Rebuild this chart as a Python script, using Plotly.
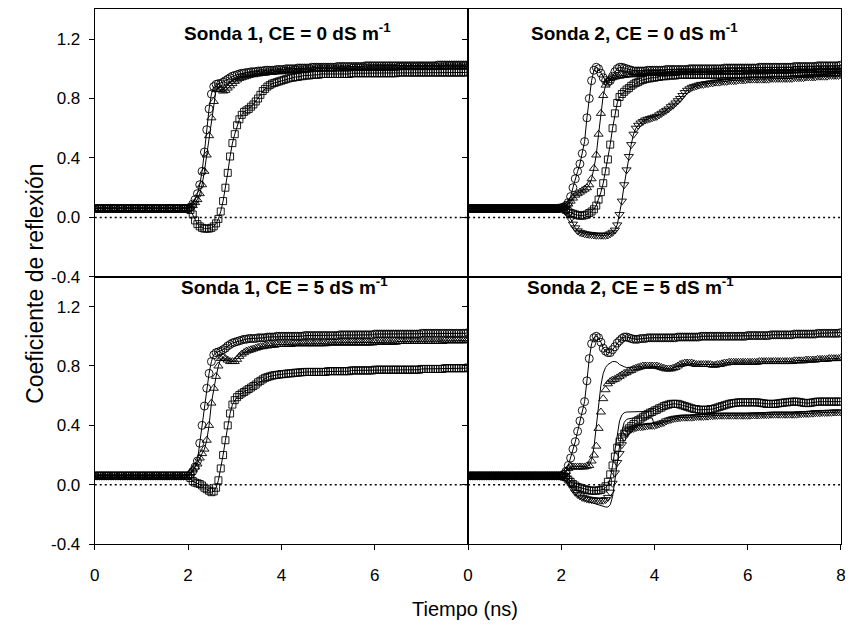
import plotly.graph_objects as go

# ---------------- data ----------------
T = [0.00, 0.05, 0.10, 0.15, 0.20, 0.25, 0.30, 0.35, 0.40, 0.45,
     0.50, 0.55, 0.60, 0.65, 0.70, 0.75, 0.80, 0.85, 0.90, 0.95,
     1.00, 1.05, 1.10, 1.15, 1.20, 1.25, 1.30, 1.35, 1.40, 1.45,
     1.50, 1.55, 1.60, 1.65, 1.70, 1.75, 1.80, 1.85, 1.90, 1.95,
     2.00, 2.05, 2.10, 2.15, 2.20, 2.25, 2.30, 2.35, 2.40, 2.45,
     2.50, 2.55, 2.60, 2.65, 2.70, 2.75, 2.80, 2.85, 2.90, 2.95,
     3.00, 3.05, 3.10, 3.15, 3.20, 3.25, 3.30, 3.35, 3.40, 3.45,
     3.50, 3.55, 3.60, 3.65, 3.70, 3.75, 3.80, 3.85, 3.90, 3.95,
     4.00, 4.05, 4.10, 4.15, 4.20, 4.25, 4.30, 4.35, 4.40, 4.45,
     4.50, 4.55, 4.60, 4.65, 4.70, 4.75, 4.80, 4.85, 4.90, 4.95,
     5.00, 5.05, 5.10, 5.15, 5.20, 5.25, 5.30, 5.35, 5.40, 5.45,
     5.50, 5.55, 5.60, 5.65, 5.70, 5.75, 5.80, 5.85, 5.90, 5.95,
     6.00, 6.05, 6.10, 6.15, 6.20, 6.25, 6.30, 6.35, 6.40, 6.45,
     6.50, 6.55, 6.60, 6.65, 6.70, 6.75, 6.80, 6.85, 6.90, 6.95,
     7.00, 7.05, 7.10, 7.15, 7.20, 7.25, 7.30, 7.35, 7.40, 7.45,
     7.50, 7.55, 7.60, 7.65, 7.70, 7.75, 7.80, 7.85, 7.90, 7.95,
     8.00]

# baseline before the reflection (t = 0.00 ... 1.95), read ~0.06
BASE = [0.06, 0.06, 0.06, 0.06, 0.06, 0.06, 0.06, 0.06, 0.06, 0.06,
        0.06, 0.06, 0.06, 0.06, 0.06, 0.06, 0.06, 0.06, 0.06, 0.06,
        0.06, 0.06, 0.06, 0.06, 0.06, 0.06, 0.06, 0.06, 0.06, 0.06,
        0.06, 0.06, 0.06, 0.06, 0.06, 0.06, 0.06, 0.06, 0.06, 0.06]

# ---- Sonda 1, CE = 0 (t = 2.00 ... 3.95 and 4.00 ... 8.00)
s1c0_circ_mid = [0.06, 0.07, 0.09, 0.12, 0.16, 0.22, 0.31, 0.44, 0.59, 0.73,
                 0.83, 0.88, 0.895, 0.90, 0.90, 0.91, 0.92, 0.93, 0.94, 0.95,
                 0.955, 0.96, 0.965, 0.97, 0.97, 0.975, 0.975, 0.98, 0.98, 0.98,
                 0.985, 0.985, 0.985, 0.99, 0.99, 0.99, 0.99, 0.99, 0.995, 0.995]
s1c0_circ_end = [0.995, 0.995, 1.0, 1.0, 1.0, 1.0, 1.0, 1.005, 1.005, 1.005,
                 1.005, 1.005, 1.005, 1.01, 1.01, 1.01, 1.01, 1.01, 1.01, 1.01,
                 1.01, 1.01, 1.01, 1.01, 1.015, 1.015, 1.015, 1.015, 1.015, 1.015,
                 1.015, 1.015, 1.015, 1.015, 1.015, 1.015, 1.02, 1.02, 1.02, 1.02,
                 1.02, 1.02, 1.02, 1.02, 1.02, 1.02, 1.02, 1.02, 1.02, 1.02,
                 1.02, 1.02, 1.02, 1.02, 1.02, 1.02, 1.02, 1.02, 1.02, 1.02,
                 1.02, 1.02, 1.02, 1.02, 1.02, 1.02, 1.02, 1.025, 1.025, 1.025,
                 1.025, 1.025, 1.025, 1.025, 1.025, 1.025, 1.025, 1.025, 1.025, 1.025,
                 1.025]
s1c0_tri_mid = [0.06, 0.07, 0.08, 0.10, 0.12, 0.16, 0.22, 0.31, 0.42, 0.55,
                0.67, 0.78, 0.86, 0.87, 0.86, 0.85, 0.855, 0.87, 0.885, 0.90,
                0.915, 0.925, 0.935, 0.94, 0.945, 0.95, 0.955, 0.96, 0.96, 0.965,
                0.965, 0.97, 0.97, 0.97, 0.975, 0.975, 0.975, 0.98, 0.98, 0.98]
s1c0_tri_end = [0.98, 0.985, 0.985, 0.985, 0.985, 0.99, 0.99, 0.99, 0.99, 0.99,
                0.995, 0.995, 0.995, 0.995, 0.995, 1.0, 1.0, 1.0, 1.0, 1.0,
                1.0, 1.0, 1.0, 1.0, 1.0, 1.0, 1.0, 1.0, 1.0, 1.0,
                1.005, 1.005, 1.005, 1.005, 1.005, 1.005, 1.005, 1.005, 1.005, 1.005,
                1.005, 1.005, 1.005, 1.005, 1.005, 1.005, 1.005, 1.005, 1.005, 1.005,
                1.01, 1.01, 1.01, 1.01, 1.01, 1.01, 1.01, 1.01, 1.01, 1.01,
                1.01, 1.01, 1.01, 1.01, 1.01, 1.01, 1.01, 1.01, 1.01, 1.01,
                1.015, 1.015, 1.015, 1.015, 1.015, 1.015, 1.015, 1.015, 1.015, 1.015,
                1.015]
s1c0_sq_mid = [0.06, 0.05, 0.02, -0.02, -0.045, -0.06, -0.07, -0.075, -0.075, -0.075,
               -0.07, -0.06, -0.04, -0.01, 0.04, 0.11, 0.20, 0.30, 0.41, 0.50,
               0.56, 0.62, 0.66, 0.69, 0.71, 0.72, 0.73, 0.745, 0.76, 0.78,
               0.80, 0.825, 0.85, 0.865, 0.88, 0.89, 0.90, 0.905, 0.91, 0.915]
s1c0_sq_end = [0.92, 0.925, 0.93, 0.935, 0.94, 0.94, 0.945, 0.945, 0.95, 0.95,
               0.955, 0.955, 0.955, 0.96, 0.96, 0.96, 0.96, 0.965, 0.965, 0.965,
               0.965, 0.965, 0.965, 0.965, 0.965, 0.965, 0.965, 0.965, 0.965, 0.965,
               0.97, 0.97, 0.97, 0.97, 0.97, 0.97, 0.97, 0.97, 0.97, 0.97,
               0.97, 0.97, 0.97, 0.97, 0.97, 0.97, 0.97, 0.97, 0.97, 0.97,
               0.975, 0.975, 0.975, 0.975, 0.975, 0.975, 0.975, 0.975, 0.975, 0.975,
               0.975, 0.975, 0.975, 0.975, 0.975, 0.975, 0.975, 0.975, 0.975, 0.975,
               0.975, 0.975, 0.975, 0.975, 0.975, 0.975, 0.975, 0.975, 0.975, 0.975,
               0.98]

# ---- Sonda 2, CE = 0
s2c0_circ_mid = [0.065, 0.07, 0.08, 0.10, 0.14, 0.20, 0.26, 0.31, 0.36, 0.43,
                 0.51, 0.67, 0.80, 0.92, 0.99, 1.01, 1.0, 0.97, 0.94, 0.92,
                 0.91, 0.92, 0.95, 0.98, 1.0, 1.01, 1.01, 1.005, 1.0, 0.995,
                 0.99, 0.985, 0.985, 0.985, 0.985, 0.985, 0.985, 0.99, 0.99, 0.99]
s2c0_circ_end = [0.99, 0.99, 0.99, 0.99, 0.99, 0.995, 0.995, 0.995, 0.995, 0.995,
                 0.995, 0.995, 0.995, 0.995, 0.995, 1.0, 1.0, 1.0, 1.0, 1.0,
                 1.0, 1.0, 1.0, 1.0, 1.0, 1.0, 1.0, 1.0, 1.0, 1.0,
                 1.005, 1.005, 1.005, 1.005, 1.005, 1.005, 1.005, 1.005, 1.005, 1.005,
                 1.005, 1.005, 1.005, 1.005, 1.005, 1.01, 1.01, 1.01, 1.01, 1.01,
                 1.01, 1.01, 1.01, 1.01, 1.01, 1.01, 1.01, 1.01, 1.01, 1.01,
                 1.015, 1.015, 1.015, 1.015, 1.015, 1.015, 1.015, 1.015, 1.015, 1.015,
                 1.02, 1.02, 1.02, 1.02, 1.02, 1.02, 1.02, 1.02, 1.02, 1.02,
                 1.025]
s2c0_tri_mid = [0.065, 0.07, 0.08, 0.09, 0.11, 0.13, 0.15, 0.16, 0.17, 0.18,
                0.19, 0.20, 0.22, 0.26, 0.33, 0.42, 0.56, 0.70, 0.82, 0.89,
                0.92, 0.935, 0.94, 0.945, 0.95, 0.95, 0.955, 0.955, 0.96, 0.96,
                0.96, 0.96, 0.965, 0.965, 0.965, 0.965, 0.97, 0.97, 0.97, 0.97]
s2c0_tri_end = [0.97, 0.97, 0.97, 0.97, 0.97, 0.97, 0.97, 0.97, 0.97, 0.97,
                0.975, 0.975, 0.975, 0.975, 0.975, 0.975, 0.975, 0.975, 0.975, 0.975,
                0.975, 0.975, 0.975, 0.975, 0.975, 0.98, 0.98, 0.98, 0.98, 0.98,
                0.98, 0.98, 0.98, 0.98, 0.98, 0.98, 0.98, 0.98, 0.98, 0.98,
                0.985, 0.985, 0.985, 0.985, 0.985, 0.985, 0.985, 0.985, 0.985, 0.985,
                0.985, 0.985, 0.985, 0.985, 0.985, 0.985, 0.985, 0.985, 0.985, 0.985,
                0.99, 0.99, 0.99, 0.99, 0.99, 0.99, 0.99, 0.99, 0.99, 0.99,
                0.995, 0.995, 0.995, 0.995, 0.995, 0.995, 0.995, 0.995, 0.995, 0.995,
                1.0]
s2c0_sq_mid = [0.065, 0.06, 0.05, 0.04, 0.03, 0.025, 0.02, 0.015, 0.012, 0.012,
               0.015, 0.02, 0.03, 0.04, 0.055, 0.08, 0.12, 0.17, 0.23, 0.31,
               0.39, 0.49, 0.60, 0.70, 0.77, 0.81, 0.83, 0.845, 0.86, 0.87,
               0.885, 0.895, 0.905, 0.91, 0.92, 0.925, 0.93, 0.935, 0.935, 0.94]
s2c0_sq_end = [0.94, 0.945, 0.945, 0.95, 0.95, 0.95, 0.955, 0.955, 0.955, 0.955,
               0.96, 0.96, 0.96, 0.96, 0.96, 0.96, 0.96, 0.96, 0.96, 0.96,
               0.96, 0.96, 0.96, 0.96, 0.96, 0.96, 0.96, 0.96, 0.96, 0.96,
               0.965, 0.965, 0.965, 0.965, 0.965, 0.965, 0.965, 0.965, 0.965, 0.965,
               0.965, 0.965, 0.965, 0.965, 0.965, 0.965, 0.965, 0.965, 0.965, 0.965,
               0.97, 0.97, 0.97, 0.97, 0.97, 0.97, 0.97, 0.97, 0.97, 0.97,
               0.97, 0.97, 0.97, 0.97, 0.97, 0.97, 0.97, 0.97, 0.97, 0.97,
               0.975, 0.975, 0.975, 0.975, 0.975, 0.975, 0.975, 0.975, 0.975, 0.975,
               0.98]
s2c0_dtri_mid = [0.065, 0.06, 0.04, 0.02, -0.01, -0.045, -0.07, -0.09, -0.10, -0.105,
                 -0.11, -0.112, -0.114, -0.116, -0.118, -0.12, -0.12, -0.12, -0.12, -0.12,
                 -0.118, -0.11, -0.10, -0.085, -0.05, 0.02, 0.11, 0.22, 0.32, 0.41,
                 0.49, 0.56, 0.60, 0.62, 0.635, 0.645, 0.655, 0.66, 0.665, 0.67]
s2c0_dtri_end = [0.675, 0.68, 0.69, 0.70, 0.71, 0.72, 0.73, 0.745, 0.755, 0.77,
                 0.785, 0.80, 0.82, 0.84, 0.855, 0.865, 0.875, 0.88, 0.885, 0.89,
                 0.895, 0.895, 0.90, 0.90, 0.905, 0.905, 0.91, 0.91, 0.91, 0.915,
                 0.915, 0.915, 0.92, 0.92, 0.92, 0.92, 0.925, 0.925, 0.925, 0.925,
                 0.93, 0.93, 0.93, 0.93, 0.93, 0.93, 0.93, 0.93, 0.93, 0.93,
                 0.935, 0.935, 0.935, 0.935, 0.935, 0.935, 0.935, 0.935, 0.935, 0.935,
                 0.94, 0.94, 0.94, 0.94, 0.94, 0.945, 0.945, 0.945, 0.945, 0.945,
                 0.95, 0.95, 0.95, 0.95, 0.95, 0.955, 0.955, 0.955, 0.955, 0.955,
                 0.96]

# ---- Sonda 1, CE = 5
s1c5_circ_mid = [0.06, 0.07, 0.09, 0.12, 0.16, 0.28, 0.40, 0.53, 0.65, 0.75,
                 0.83, 0.875, 0.89, 0.895, 0.90, 0.91, 0.92, 0.935, 0.945, 0.955,
                 0.96, 0.965, 0.97, 0.975, 0.98, 0.98, 0.985, 0.985, 0.985, 0.985,
                 0.99, 0.99, 0.99, 0.99, 0.995, 0.995, 0.995, 0.995, 1.0, 1.0]
s1c5_circ_end = [1.0, 1.0, 1.0, 1.0, 1.0, 1.0, 1.0, 1.0, 1.0, 1.0,
                 1.005, 1.005, 1.005, 1.005, 1.005, 1.005, 1.005, 1.005, 1.005, 1.005,
                 1.005, 1.005, 1.005, 1.005, 1.005, 1.01, 1.01, 1.01, 1.01, 1.01,
                 1.01, 1.01, 1.01, 1.01, 1.01, 1.01, 1.01, 1.01, 1.01, 1.01,
                 1.015, 1.015, 1.015, 1.015, 1.015, 1.015, 1.015, 1.015, 1.015, 1.015,
                 1.015, 1.015, 1.015, 1.015, 1.015, 1.015, 1.015, 1.015, 1.015, 1.015,
                 1.02, 1.02, 1.02, 1.02, 1.02, 1.02, 1.02, 1.02, 1.02, 1.02,
                 1.02, 1.02, 1.02, 1.02, 1.02, 1.02, 1.02, 1.02, 1.02, 1.02,
                 1.025]
s1c5_tri_mid = [0.06, 0.08, 0.10, 0.12, 0.14, 0.18, 0.21, 0.24, 0.30, 0.40,
                0.55, 0.65, 0.73, 0.80, 0.85, 0.86, 0.85, 0.84, 0.83, 0.83,
                0.83, 0.845, 0.865, 0.88, 0.89, 0.90, 0.905, 0.91, 0.915, 0.92,
                0.925, 0.93, 0.93, 0.935, 0.935, 0.94, 0.94, 0.94, 0.945, 0.945]
s1c5_tri_end = [0.945, 0.945, 0.945, 0.945, 0.945, 0.95, 0.95, 0.95, 0.95, 0.95,
                0.95, 0.95, 0.95, 0.95, 0.95, 0.95, 0.95, 0.95, 0.95, 0.95,
                0.955, 0.955, 0.955, 0.955, 0.955, 0.955, 0.955, 0.955, 0.955, 0.955,
                0.955, 0.955, 0.955, 0.955, 0.955, 0.955, 0.955, 0.955, 0.955, 0.955,
                0.96, 0.96, 0.96, 0.96, 0.96, 0.96, 0.96, 0.96, 0.96, 0.96,
                0.965, 0.965, 0.965, 0.965, 0.965, 0.965, 0.965, 0.965, 0.965, 0.965,
                0.965, 0.965, 0.965, 0.965, 0.965, 0.965, 0.965, 0.965, 0.965, 0.965,
                0.97, 0.97, 0.97, 0.97, 0.97, 0.97, 0.97, 0.97, 0.97, 0.97,
                0.975]
s1c5_sq_mid = [0.06, 0.045, 0.025, 0.015, 0.01, 0.005, -0.005, -0.02, -0.03, -0.04,
               -0.05, -0.045, -0.02, 0.03, 0.11, 0.20, 0.30, 0.40, 0.48, 0.54,
               0.57, 0.59, 0.605, 0.615, 0.625, 0.635, 0.645, 0.655, 0.665, 0.675,
               0.69, 0.70, 0.71, 0.72, 0.725, 0.73, 0.735, 0.738, 0.74, 0.742]
s1c5_sq_end = [0.745, 0.745, 0.748, 0.75, 0.75, 0.752, 0.755, 0.755, 0.757, 0.758,
               0.76, 0.76, 0.76, 0.76, 0.76, 0.76, 0.76, 0.76, 0.76, 0.76,
               0.765, 0.765, 0.765, 0.765, 0.765, 0.765, 0.765, 0.765, 0.765, 0.765,
               0.77, 0.77, 0.77, 0.77, 0.77, 0.77, 0.77, 0.77, 0.77, 0.77,
               0.775, 0.775, 0.775, 0.775, 0.775, 0.775, 0.775, 0.775, 0.775, 0.775,
               0.775, 0.775, 0.775, 0.775, 0.775, 0.775, 0.775, 0.775, 0.775, 0.775,
               0.78, 0.78, 0.78, 0.78, 0.78, 0.78, 0.78, 0.78, 0.78, 0.78,
               0.785, 0.785, 0.785, 0.785, 0.785, 0.785, 0.785, 0.785, 0.785, 0.785,
               0.79]

# ---- Sonda 2, CE = 5
s2c5_circ_mid = [0.06, 0.07, 0.09, 0.13, 0.18, 0.24, 0.29, 0.36, 0.43, 0.50,
                 0.56, 0.70, 0.85, 0.95, 0.99, 1.0, 0.99, 0.96, 0.92, 0.90,
                 0.89, 0.89, 0.91, 0.93, 0.955, 0.97, 0.985, 0.995, 0.995, 0.99,
                 0.985, 0.98, 0.98, 0.98, 0.985, 0.985, 0.985, 0.99, 0.99, 0.99]
s2c5_circ_end = [0.99, 0.99, 0.99, 0.99, 0.99, 0.99, 0.99, 0.99, 0.99, 0.99,
                 0.995, 0.995, 0.995, 0.995, 0.995, 0.995, 0.995, 0.995, 0.995, 0.995,
                 1.0, 1.0, 1.0, 1.0, 1.0, 1.0, 1.0, 1.0, 1.0, 1.0,
                 1.0, 1.0, 1.0, 1.0, 1.0, 1.0, 1.0, 1.0, 1.0, 1.0,
                 1.005, 1.005, 1.005, 1.005, 1.005, 1.005, 1.005, 1.005, 1.005, 1.005,
                 1.01, 1.01, 1.01, 1.01, 1.01, 1.01, 1.01, 1.01, 1.01, 1.01,
                 1.015, 1.015, 1.015, 1.015, 1.015, 1.015, 1.015, 1.015, 1.015, 1.015,
                 1.02, 1.02, 1.02, 1.02, 1.02, 1.02, 1.02, 1.02, 1.02, 1.02,
                 1.025]
s2c5_tri_mid = [0.06, 0.07, 0.09, 0.11, 0.12, 0.12, 0.12, 0.12, 0.12, 0.12,
                0.12, 0.125, 0.13, 0.16, 0.20, 0.26, 0.38, 0.49, 0.58, 0.64,
                0.68, 0.695, 0.705, 0.71, 0.72, 0.73, 0.74, 0.75, 0.755, 0.765,
                0.77, 0.78, 0.785, 0.79, 0.795, 0.80, 0.80, 0.80, 0.80, 0.80]
s2c5_tri_fit_mid = [0.06, 0.07, 0.09, 0.11, 0.12, 0.12, 0.12, 0.12, 0.12, 0.12,
                    0.12, 0.125, 0.13, 0.17, 0.25, 0.40, 0.55, 0.67, 0.75, 0.79,
                    0.81, 0.82, 0.83, 0.83, 0.825, 0.81, 0.80, 0.795, 0.79, 0.79,
                    0.79, 0.79, 0.79, 0.79, 0.795, 0.80, 0.80, 0.80, 0.80, 0.80]
s2c5_tri_end = [0.80, 0.80, 0.795, 0.79, 0.785, 0.78, 0.78, 0.78, 0.785, 0.79,
                0.80, 0.81, 0.815, 0.82, 0.82, 0.82, 0.82, 0.815, 0.81, 0.81,
                0.81, 0.81, 0.81, 0.81, 0.81, 0.805, 0.805, 0.81, 0.81, 0.815,
                0.82, 0.82, 0.825, 0.825, 0.825, 0.825, 0.825, 0.825, 0.825, 0.825,
                0.825, 0.825, 0.825, 0.825, 0.825, 0.83, 0.83, 0.83, 0.83, 0.83,
                0.83, 0.83, 0.83, 0.83, 0.83, 0.83, 0.83, 0.83, 0.83, 0.83,
                0.835, 0.835, 0.835, 0.835, 0.835, 0.84, 0.84, 0.84, 0.84, 0.84,
                0.845, 0.845, 0.845, 0.845, 0.845, 0.85, 0.85, 0.85, 0.85, 0.85,
                0.855]
s2c5_sq_mid = [0.06, 0.055, 0.05, 0.035, 0.02, 0.005, -0.005, -0.015, -0.02, -0.025,
               -0.03, -0.035, -0.038, -0.04, -0.04, -0.04, -0.038, -0.035, -0.025, -0.01,
               0.02, 0.07, 0.13, 0.19, 0.25, 0.29, 0.32, 0.345, 0.365, 0.38,
               0.395, 0.41, 0.425, 0.435, 0.445, 0.455, 0.465, 0.475, 0.485, 0.49]
s2c5_sq_fit_mid = [0.06, 0.055, 0.05, 0.035, 0.02, 0.005, -0.005, -0.015, -0.02, -0.025,
                   -0.03, -0.035, -0.038, -0.04, -0.04, -0.04, -0.038, -0.035, -0.03, -0.02,
                   0.0, 0.04, 0.13, 0.24, 0.35, 0.43, 0.47, 0.485, 0.49, 0.49,
                   0.49, 0.49, 0.49, 0.49, 0.49, 0.49, 0.49, 0.49, 0.49, 0.495]
s2c5_sq_end = [0.50, 0.505, 0.515, 0.52, 0.53, 0.535, 0.54, 0.545, 0.545, 0.545,
               0.545, 0.54, 0.535, 0.53, 0.525, 0.52, 0.515, 0.51, 0.51, 0.505,
               0.505, 0.505, 0.505, 0.505, 0.51, 0.51, 0.515, 0.52, 0.525, 0.53,
               0.535, 0.54, 0.545, 0.548, 0.55, 0.552, 0.555, 0.555, 0.555, 0.555,
               0.555, 0.555, 0.555, 0.555, 0.555, 0.553, 0.55, 0.548, 0.545, 0.545,
               0.545, 0.545, 0.545, 0.548, 0.55, 0.552, 0.555, 0.555, 0.558, 0.56,
               0.56, 0.56, 0.558, 0.555, 0.552, 0.55, 0.55, 0.552, 0.555, 0.558,
               0.56, 0.56, 0.56, 0.56, 0.56, 0.56, 0.56, 0.56, 0.56, 0.56,
               0.56]
s2c5_dtri_mid = [0.06, 0.055, 0.045, 0.03, 0.005, -0.025, -0.05, -0.065, -0.075, -0.085,
                 -0.09, -0.095, -0.098, -0.10, -0.102, -0.104, -0.105, -0.105, -0.105, -0.10,
                 -0.085, -0.05, 0.01, 0.08, 0.15, 0.21, 0.27, 0.32, 0.35, 0.365,
                 0.375, 0.38, 0.385, 0.39, 0.39, 0.392, 0.395, 0.397, 0.40, 0.40]
s2c5_dtri_fit_mid = [0.06, 0.055, 0.045, 0.02, -0.01, -0.04, -0.06, -0.08, -0.09, -0.10,
                     -0.105, -0.11, -0.115, -0.12, -0.125, -0.13, -0.135, -0.14, -0.145, -0.15,
                     -0.15, -0.135, -0.08, 0.02, 0.14, 0.26, 0.36, 0.42, 0.44, 0.445,
                     0.45, 0.45, 0.45, 0.45, 0.45, 0.45, 0.45, 0.45, 0.45, 0.45]
s2c5_dtri_end = [0.40, 0.405, 0.41, 0.415, 0.42, 0.43, 0.435, 0.44, 0.445, 0.448,
                 0.45, 0.452, 0.455, 0.455, 0.455, 0.455, 0.455, 0.457, 0.46, 0.46,
                 0.46, 0.46, 0.462, 0.462, 0.465, 0.465, 0.467, 0.467, 0.468, 0.468,
                 0.468, 0.468, 0.468, 0.468, 0.468, 0.468, 0.468, 0.468, 0.468, 0.468,
                 0.468, 0.468, 0.47, 0.47, 0.47, 0.47, 0.472, 0.472, 0.472, 0.472,
                 0.475, 0.475, 0.475, 0.475, 0.475, 0.475, 0.475, 0.475, 0.475, 0.475,
                 0.475, 0.475, 0.478, 0.478, 0.48, 0.48, 0.48, 0.482, 0.482, 0.485,
                 0.485, 0.485, 0.487, 0.487, 0.487, 0.488, 0.488, 0.49, 0.49, 0.49,
                 0.49]

panel_titles = ["Sonda 1, CE = 0 dS m<sup>-1</sup>", "Sonda 2, CE = 0 dS m<sup>-1</sup>",
                "Sonda 1, CE = 5 dS m<sup>-1</sup>", "Sonda 2, CE = 5 dS m<sup>-1</sup>"]
y_ticks = [-0.4, 0.0, 0.4, 0.8, 1.2]
y_tick_text = ["-0.4", "0.0", "0.4", "0.8", "1.2"]
x_ticks_left = [0, 2, 4, 6]
x_ticks_right = [0, 2, 4, 6, 8]

def full(mid, end):
    return BASE + mid + end

panels = {
    "TL": [("circle-open", full(s1c0_circ_mid, s1c0_circ_end), None),
           ("triangle-up-open", full(s1c0_tri_mid, s1c0_tri_end), None),
           ("square-open", full(s1c0_sq_mid, s1c0_sq_end), None)],
    "TR": [("circle-open", full(s2c0_circ_mid, s2c0_circ_end), None),
           ("triangle-up-open", full(s2c0_tri_mid, s2c0_tri_end), None),
           ("square-open", full(s2c0_sq_mid, s2c0_sq_end), None),
           ("triangle-down-open", full(s2c0_dtri_mid, s2c0_dtri_end), None)],
    "BL": [("circle-open", full(s1c5_circ_mid, s1c5_circ_end), None),
           ("triangle-up-open", full(s1c5_tri_mid, s1c5_tri_end), None),
           ("square-open", full(s1c5_sq_mid, s1c5_sq_end), None)],
    "BR": [("circle-open", full(s2c5_circ_mid, s2c5_circ_end), None),
           ("triangle-up-open", full(s2c5_tri_mid, s2c5_tri_end), full(s2c5_tri_fit_mid, s2c5_tri_end)),
           ("square-open", full(s2c5_sq_mid, s2c5_sq_end), full(s2c5_sq_fit_mid, s2c5_sq_end)),
           ("triangle-down-open", full(s2c5_dtri_mid, s2c5_dtri_end), full(s2c5_dtri_fit_mid, s2c5_dtri_end))],
}
axes_of = {"TL": ("x3", "y3"), "TR": ("x4", "y4"), "BL": ("x", "y"), "BR": ("x2", "y2")}

# ---------------- figure ----------------
W, H = 853, 627
OFF = 8  # page body margin: the figure is drawn 8 px right/down in the window

def px(sx):   # window x pixel -> paper fraction
    return (sx - OFF) / W

def py(sy):   # window y pixel -> paper fraction
    return 1 - (sy - OFF) / H

xl = (px(90.7), px(468.5))
xr = (px(468.5), px(845.7))
yt = (py(280.7), py(8.3))
yb = (py(552.7), py(280.7))

fig = go.Figure()
msize = {"circle-open": 8, "triangle-up-open": 8, "square-open": 7, "triangle-down-open": 8}
for key, series in panels.items():
    xa, ya = axes_of[key]
    for sym, meas, model in series:
        line_y = model if model is not None else meas
        fig.add_trace(go.Scatter(x=T, y=line_y, mode="lines", xaxis=xa, yaxis=ya,
                                 line=dict(color="black", width=1), hoverinfo="skip"))
        fig.add_trace(go.Scatter(x=T, y=meas, mode="markers", xaxis=xa, yaxis=ya,
                                 marker=dict(symbol=sym, size=msize[sym], color="black",
                                             line=dict(width=0.9, color="black")),
                                 hoverinfo="skip"))

font_family = "Arial, Liberation Sans, sans-serif"
tickfont = dict(family=font_family, size=17, color="black")
common_x = dict(range=[0, 8], showgrid=False, zeroline=False, showline=True, linecolor="black",
                linewidth=1, mirror=True, tickfont=tickfont, ticklen=5, tickcolor="black",
                tickwidth=1, ticklabeloverflow="allow")
common_y = dict(range=[-0.4, 1.4], showgrid=False, zeroline=False, showline=True, linecolor="black",
                linewidth=1, mirror=True, tickfont=tickfont, ticklen=5, tickcolor="black",
                tickwidth=1, tickvals=y_ticks, ticktext=y_tick_text, ticks="outside",
                ticklabeloverflow="allow")

fig.update_layout(
    width=W, height=H, margin=dict(l=0, r=0, t=0, b=0),
    paper_bgcolor="white", plot_bgcolor="white", showlegend=False,
    xaxis=dict(common_x, domain=list(xl), anchor="y", tickvals=x_ticks_left, ticks="outside",
               ticklabelstandoff=10),
    xaxis2=dict(common_x, domain=list(xr), anchor="y2", tickvals=x_ticks_right, ticks="outside",
                ticklabelstandoff=10),
    xaxis3=dict(common_x, domain=list(xl), anchor="y3", showticklabels=False, ticks=""),
    xaxis4=dict(common_x, domain=list(xr), anchor="y4", showticklabels=False, ticks=""),
    yaxis=dict(common_y, domain=list(yb), anchor="x", ticklabelstandoff=5),
    yaxis2=dict(common_y, domain=list(yb), anchor="x2", showticklabels=False),
    yaxis3=dict(common_y, domain=list(yt), anchor="x3", ticklabelstandoff=5),
    yaxis4=dict(common_y, domain=list(yt), anchor="x4", showticklabels=False),
)

# dotted zero lines
for key, (xa, ya) in axes_of.items():
    fig.add_shape(type="line", xref=xa + " domain", yref=ya,
                  x0=0, x1=1, y0=0, y1=0, line=dict(color="black", width=1.4, dash="2px,3px"))

# panel titles (window pixel positions of the text centre)
title_pos = [(286, 31), (637, 31), (283, 290), (633, 290)]
for txt, (tx, ty) in zip(panel_titles, title_pos):
    fig.add_annotation(text="<b>" + txt + "</b>", x=px(tx), y=py(ty), xref="paper", yref="paper",
                       showarrow=False, xanchor="center", yanchor="middle",
                       font=dict(family=font_family, size=19, color="black"))

# axis titles
fig.add_annotation(text="Tiempo (ns)", x=px(465), y=py(619), xref="paper", yref="paper",
                   showarrow=False, xanchor="center", yanchor="middle",
                   font=dict(family=font_family, size=20, color="black"))
fig.add_annotation(text="Coeficiente de reflexión", x=px(30), y=py(288), xref="paper", yref="paper",
                   showarrow=False, xanchor="center", yanchor="middle", textangle=-90,
                   font=dict(family=font_family, size=23, color="black"))

fig.write_html("out.html")
